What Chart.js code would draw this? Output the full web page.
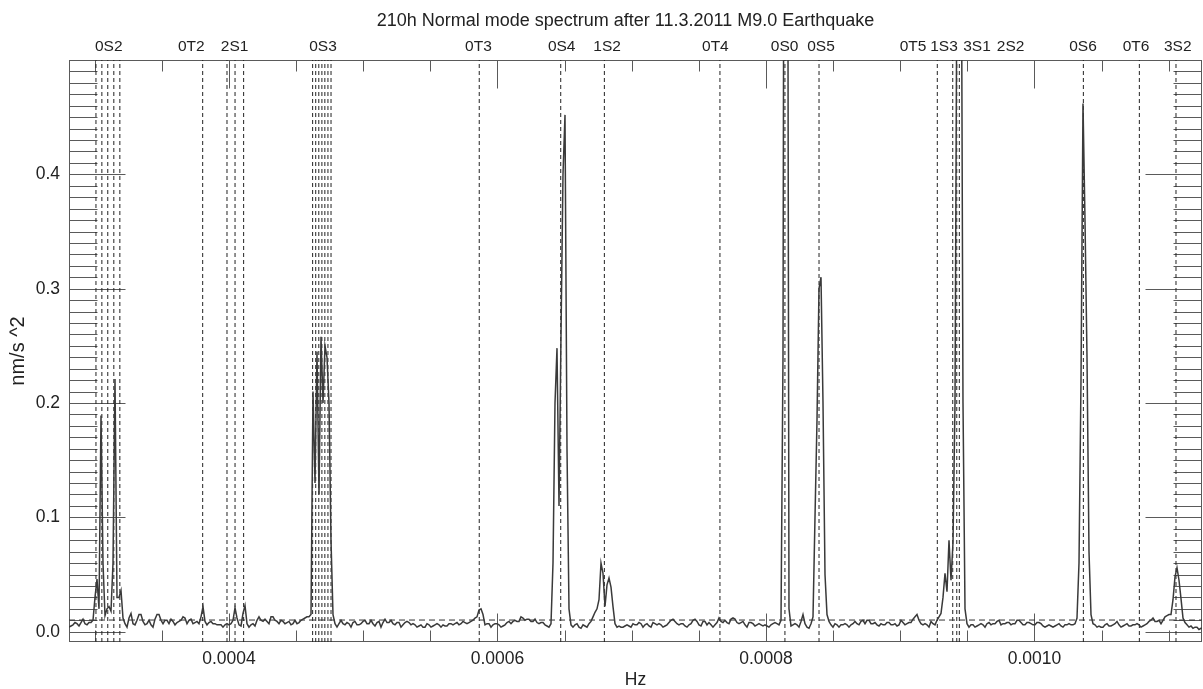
<!DOCTYPE html>
<html><head><meta charset="utf-8">
<script src="https://cdn.jsdelivr.net/npm/chart.js@4.4.1/dist/chart.umd.min.js"></script>
<style>html,body{margin:0;padding:0;background:#fff;}#wrap{width:1203px;height:689px;position:relative;}</style>
</head><body><div id="wrap"><canvas id="c"></canvas></div>
<script>
// ---- data ----
const TITLE = '210h Normal mode spectrum after 11.3.2011 M9.0 Earthquake';
const FREQ_START = 0.00028082;   // Hz, first spectral sample
const FREQ_STEP = 1.48976e-6;    // Hz between samples
const X_MIN = 0.00028082, X_MAX = 0.00112477;
const Y_MIN = -0.009, Y_MAX = 0.5;
const NOISE_LEVEL = 0.0102;

// spectrum amplitude (nm/s^2), consecutive samples
const segLow = [.004,.005,.006,.008,.007,.005,.008,.011,.007,.006,.008,.008,.010];
const seg0S2 = [.030,.046,.020,.189,.060,.014,.020,.022,.018,.060,.221,.030,.030,.036,.012];
const segA = [.007,.004,.012,.016,.007,.006,.010,.015,.015,.009,
 .006,.007,.010,.006,.004,.011,.015,.015,.010,.007,
 .010,.010,.007,.011,.009,.006,.008,.009,.010,.013,
 .012,.007,.010,.011,.007,.008,.009,.007,.013,.022,
 .009,.006,.008,.009,.007,.007,.006,.006,.006,.004,
 .006,.007,.006,.007,.010,.021,.012,.006,.005,.016,
 .023,.007,.004,.006,.007,.005,.010,.013,.010,.009,
 .011,.009,.007,.013,.013,.010,.009,.007,.010,.009,
 .007,.008,.009,.006,.007,.010,.007,.008,.010,.011,
 .012,.013,.013,.015];
const seg0S3 = [.21,.13,.245,.12,.258,.20,.25,.24,.20,.08,.015];
const segB = [.007,.004,.007,.010,.007,.006,.008,.007,.004,.008,
 .009,.006,.006,.007,.009,.010,.007,.007,.010,.007,
 .005,.008,.009,.004,.008,.011,.008,.008,.010,.007,
 .006,.008,.008,.004,.006,.008,.009,.008,.006,.007,
 .006,.004,.005,.006,.004,.004,.007,.006,.004,.005,
 .006,.007,.006,.004,.006];
const segC = [.005,.005,.007,.007,.006,.007,.008,.006,.007,.009,
 .008,.007,.008,.009,.010,.012,.013,.019,.020,.015,
 .006,.007,.007,.004,.006,.007,.007,.006,.004,.005,
 .006,.008,.009,.007,.009,.010,.009,.009,.013,.012,
 .010,.011,.011,.009,.009,.011,.008,.007,.008,.008,
 .006,.005,.004,.007];
const seg0S4 = [.06,.20,.248,.11,.26,.40,.452,.16,.02];
const segD = [.006,.004,.006,.007,.004,.003,.006,.005,.004,.007,
 .009,.013,.017,.020,.028,.060,.051,.022,.041,.047,
 .039,.022,.007,.004,.005,.004,.004,.005,.006,.005,
 .004,.007,.006,.006,.008,.007,.004,.006,.007,.005,
 .004,.008,.007,.006,.007,.006,.004,.005,.006,.008,
 .010,.011,.009,.007,.006,.007,.007,.005,.004,.006,
 .007,.010,.011,.009,.006,.005,.009,.009,.006,.008,
 .006,.004,.006,.008,.012,.009,.008,.010,.008,.007,
 .011,.012,.011,.008,.007,.008,.009,.006,.004,.008,
 .008,.007,.005,.006,.007,.006,.005,.006,.005,.004,
 .006,.007,.008,.007,.006,.010];
const seg0S0 = [.24,1.2,1.0,.02];
const segE = [.005,.006,.007,.006,.004,.009,.015,.007,.004,.003,.007,.013];
const seg0S5 = [.10,.185,.30,.31,.20,.05,.015];
const segF = [.009,.006,.004,.007,.006,.004,.006,.006,.007,.006,
 .004,.006,.007,.009,.007,.006,.009,.010,.007,.010,
 .010,.007,.007,.008,.006,.005,.007,.006,.006,.008,
 .008,.006,.006,.007,.005,.006,.010,.008,.006,.007,
 .008,.008,.011,.013,.015,.010,.007,.006,.007,.006,
 .004,.009,.007,.006,.010,.013,.016];
const seg1S3 = [.030,.051,.035,.080,.045,.078,.20,.60,1.0,.70,.20,.020];
const segG = [.007,.004,.006,.006,.004,.005,.006,.007,.006,.004,
 .007,.008,.006,.007,.007,.009,.010,.006,.007,.007,
 .008,.008,.006,.007,.007,.010,.010,.008,.006,.006,
 .008,.008,.007,.006,.006,.008,.008,.007,.005,.004,
 .005,.006,.005,.004,.005,.006,.007,.005,.004,.006,
 .006,.007,.006,.006,.007];
const seg0S6 = [.012,.06,.22,.462,.36,.24,.07,.015];
const segH = [.007,.006,.004,.005,.004,.004,.006,.007,.005,.005,
 .006,.007,.009,.006,.004,.005,.006,.007,.005,.005,
 .006,.006,.007,.006,.004,.005,.006,.007,.009,.010,
 .012,.009,.009,.010,.007,.010,.013,.014,.015,.015,
 .028,.048,.056,.045,.029,.012,.008,.006,.004,.005,
 .003,.004,.004,.002,.003,.003];

const power = [].concat(segLow, seg0S2, segA, seg0S3, segB, segC, seg0S4, segD,
  seg0S0, segE, seg0S5, segF, seg1S3, segG, seg0S6, segH);

// normal mode frequencies (Hz), dashed markers
const modeFreqs = [0.0003009,0.0003053,0.0003097,0.0003142,0.0003187, // 0S2 singlets
  0.0003804,                                   // 0T2
  0.0003985,0.0004045,0.0004109,               // 2S1
  0.0004623,0.0004646,0.0004669,0.0004692,0.0004714,0.0004737,0.0004760, // 0S3
  0.0005864, 0.0006471, 0.0006796, 0.0007657, 0.0008141, 0.0008395,
  0.0009276, 0.0009391, 0.0009421, 0.0009440, 0.0010364, 0.0010781, 0.0011054];
const modeNames = ['0S2','0T2','2S1','0S3','0T3','0S4','1S2','0T4','0S0','0S5','0T5','1S3','3S1','2S2','0S6','0T6','3S2'];
const modeLabelHz = [0.0003104,0.0003719,0.0004042,0.0004700,0.0005858,0.0006478,0.0006816,0.0007623,
  0.0008139,0.0008410,0.0009095,0.0009326,0.0009572,0.0009822,0.0010361,0.0010756,0.0011067];

const xLabelTicks = [0.0004, 0.0006, 0.0008, 0.0010];
const yLabelTicks = [0.0, 0.1, 0.2, 0.3, 0.4];
const X_MINOR_STEP = 0.00005, X_MAJOR_STEP = 0.0002;
const Y_MINOR_STEP = 0.01;

// ---- build datasets ----
const spectrumPts = power.map((v, i) => ({x: FREQ_START + i * FREQ_STEP, y: v}));
const modePts = [];
modeFreqs.forEach(f => { modePts.push({x: f, y: Y_MIN}, {x: f, y: Y_MAX}, {x: f, y: null}); });
const noisePts = [{x: X_MIN, y: NOISE_LEVEL}, {x: X_MAX, y: NOISE_LEVEL}];

const FONT = "'Liberation Sans', Arial, Helvetica, sans-serif";
Chart.defaults.font.family = FONT;
Chart.defaults.color = '#222';

const idlAxes = {
  id: 'idlAxes',
  beforeDatasetsDraw(chart) {
    const {ctx, chartArea: a} = chart;
    const x = chart.scales.x, y = chart.scales.y;
    ctx.save();
    ctx.strokeStyle = '#5a5a5a';
    ctx.lineWidth = 1;
    const seg = (x1, y1, x2, y2) => { ctx.beginPath(); ctx.moveTo(x1, y1); ctx.lineTo(x2, y2); ctx.stroke(); };
    const L = a.left + 0.5, R = a.right - 0.5, T = a.top + 0.5, B = a.bottom - 0.5;
    ctx.strokeRect(L, T, R - L, B - T);
    for (let k = 0; k * Y_MINOR_STEP < Y_MAX - 1e-9; k++) {
      const v = k * Y_MINOR_STEP;
      const p = Math.round(y.getPixelForValue(v)) + 0.5;
      const major = yLabelTicks.some(m => Math.abs(m - v) < 1e-9);
      const len = major ? 56 : 28;
      seg(L, p, L + len, p);
      seg(R, p, R - len, p);
    }
    const k0 = Math.ceil(X_MIN / X_MINOR_STEP - 1e-6);
    for (let k = k0; k * X_MINOR_STEP <= X_MAX; k++) {
      const v = k * X_MINOR_STEP;
      const p = Math.round(x.getPixelForValue(v)) + 0.5;
      const r = v / X_MAJOR_STEP;
      const major = Math.abs(r - Math.round(r)) < 1e-6;
      const len = major ? 28 : 11;
      seg(p, B, p, B - len);
      seg(p, T, p, T + len);
    }
    ctx.restore();
  }
};

new Chart(document.getElementById('c'), {
  type: 'line',
  data: {datasets: [
    {label: 'spectrum', data: spectrumPts, borderColor: '#3a3a3a', borderWidth: 1.5, pointRadius: 0, tension: 0, order: 0},
    {label: 'noise level', data: noisePts, borderColor: '#333', borderWidth: 1, borderDash: [6, 4], pointRadius: 0, order: 1},
    {label: 'modes', data: modePts, borderColor: '#222', borderWidth: 1, borderDash: [4, 3], pointRadius: 0, spanGaps: false, order: 2}
  ]},
  options: {
    responsive: true, maintainAspectRatio: false, animation: false, devicePixelRatio: 1,
    layout: {padding: {left: 0, right: 1, top: 0, bottom: 0}},
    events: [],
    plugins: {
      legend: {display: false}, tooltip: {enabled: false},
      title: {display: true, text: TITLE + '    ', fullSize: false, color: '#222',
        font: {size: 18, weight: 'normal'}, padding: {top: 10.7, bottom: 0}}
    },
    scales: {
      x: {type: 'linear', position: 'bottom', min: X_MIN, max: X_MAX,
        grid: {display: false, drawTicks: false}, border: {display: false},
        afterBuildTicks: s => { s.ticks = xLabelTicks.map(v => ({value: v})); },
        afterFit: s => { s.height = 47; },
        ticks: {autoSkip: false, maxRotation: 0, minRotation: 0, padding: 6.2, font: {size: 17.5}, color: '#222',
          callback: v => Number(v).toFixed(4)},
        title: {display: true, text: 'Hz', color: '#222', font: {size: 17.5, lineHeight: 1}, padding: {top: 0, bottom: 0}}
      },
      xTop: {type: 'linear', position: 'top', min: X_MIN, max: X_MAX,
        grid: {display: false, drawTicks: false}, border: {display: false},
        afterBuildTicks: s => { s.ticks = modeLabelHz.map(v => ({value: v})); },
        afterFit: s => { s.height = 27.7; },
        ticks: {autoSkip: false, maxRotation: 0, minRotation: 0, padding: 4.2, font: {size: 15.5}, color: '#222',
          callback: (v, i) => modeNames[i]}
      },
      y: {type: 'linear', position: 'left', min: Y_MIN, max: Y_MAX,
        grid: {display: false, drawTicks: false}, border: {display: false},
        afterBuildTicks: s => { s.ticks = yLabelTicks.map(v => ({value: v})); },
        afterFit: s => { s.width = 69; },
        ticks: {padding: 9, font: {size: 17.5}, color: '#222', callback: v => Number(v).toFixed(1)},
        title: {display: true, text: 'nm/s ^2', color: '#222', font: {size: 20}, padding: {top: 6.5, bottom: 0}}
      }
    }
  },
  plugins: [idlAxes]
});
</script></body></html>
